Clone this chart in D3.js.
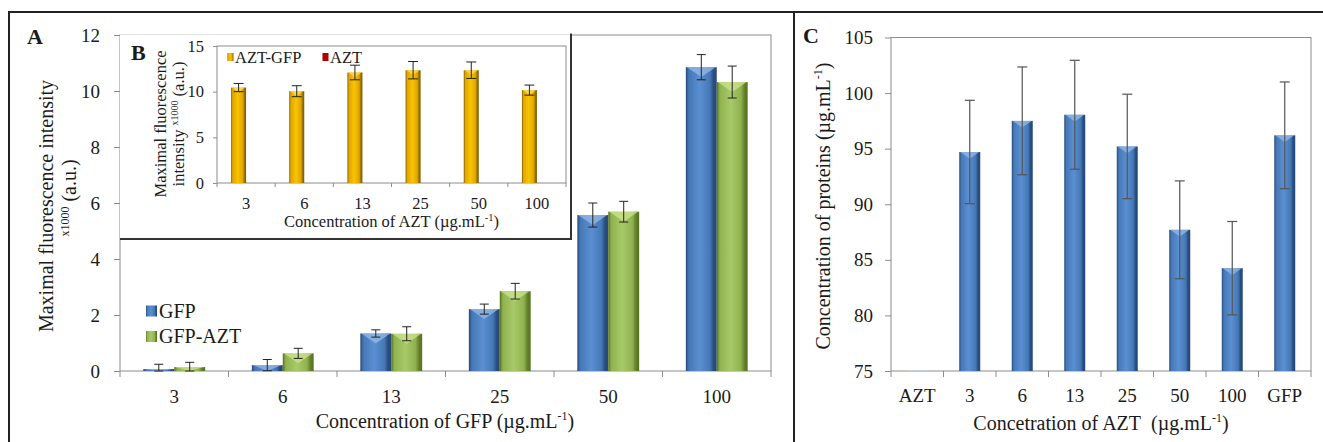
<!DOCTYPE html>
<html lang="en">
<head>
<meta charset="utf-8">
<title>Fluorescence intensity and protein concentration</title>
<script src="https://d3js.org/d3.v7.min.js"></script>
<style>
    body { margin: 0; background: #fff; }
    svg { display: block; }
    svg text { font-family: "Liberation Serif", "Times New Roman", serif; }
</style>
</head>
<body>
<script>
    // panel A : GFP / GFP-AZT
    var gfpCats = ["3", "6", "13", "25", "50", "100"];
    var gfpSeries = ["GFP", "GFP-AZT"];
    var gfpVals = [0.07, 0.21, 1.34, 2.21, 5.57, 10.85];
    var gfpErr = [0.17, 0.2, 0.13, 0.18, 0.43, 0.45];
    var gfpAztVals = [0.14, 0.63, 1.33, 2.85, 5.69, 10.32];
    var gfpAztErr = [0.17, 0.18, 0.25, 0.28, 0.37, 0.57];
    var aTicks = [0, 2, 4, 6, 8, 10, 12];

    // panel B (inset) : AZT-GFP / AZT
    var aztCats = ["3", "6", "13", "25", "50", "100"];
    var aztSeries = ["AZT-GFP", "AZT"];
    var aztGfpVals = [10.45, 10.05, 12.1, 12.35, 12.35, 10.17];
    var aztGfpErr = [0.45, 0.6, 0.8, 0.95, 0.9, 0.55];
    var aztOnlyVals = [0, 0, 0, 0, 0, 0];
    var bTicks = [0, 5, 10, 15];

    // panel C : protein concentration
    var protCats = ["AZT", "3", "6", "13", "25", "50", "100", "GFP"];
    var protVals = [75, 94.7, 97.5, 98.05, 95.2, 87.7, 84.25, 96.2];
    var protErr = [0, 4.65, 4.85, 4.9, 4.7, 4.4, 4.2, 4.8];
    var cTicks = [75, 80, 85, 90, 95, 100, 105];

    var w = 1323, h = 442;
    var ink = "#1a1a1a", axisGrey = "#8c8c8c";
    var serif = "'Liberation Serif', 'Times New Roman', serif";

    var svg = d3.select("body").append("svg")
        .attr("width", w)
        .attr("height", h);
    svg.append("rect").attr("width", w).attr("height", h).attr("fill", "#fff");

    // bevelled bar fills (excel 3d look)
    var defs = svg.append("defs");
    function bevel(id, edge, base, light, dark) {
        var g = defs.append("linearGradient").attr("id", id)
            .attr("x1", 0).attr("x2", 1).attr("y1", 0).attr("y2", 0);
        [[0, edge], [0.1, base], [0.45, light], [0.78, base], [0.9, dark], [1, edge]].forEach(function(s) {
            g.append("stop").attr("offset", s[0]).attr("stop-color", s[1]);
        });
    }
    bevel("blue", "#264a78", "#4678b6", "#5a8fd2", "#284c7d");
    bevel("green", "#56721f", "#90b24f", "#a8c968", "#637f2a");
    bevel("gold", "#7a5a00", "#e0a500", "#f9c400", "#946e00");
    var topLight = { blue: "#95b9e6", green: "#cde38f", gold: "#ffdc5e" };

    function drawBar(g, bx, bw, yTop, yBase, fill) {
        var bh = yBase - yTop;
        if (bh < 1) {
            g.append("rect").attr("x", bx).attr("y", yBase - 1).attr("width", bw).attr("height", 1)
                .attr("fill", "#c3cedd");
            return;
        }
        g.append("rect").attr("x", bx).attr("y", yTop).attr("width", bw).attr("height", bh)
            .attr("fill", "url(#" + fill + ")");
        var tip = Math.min(bw * 0.32, bh);
        g.append("path")
            .attr("d", "M" + (bx + 1) + "," + yTop + "L" + (bx + bw - 1) + "," + yTop +
                "L" + (bx + bw / 2) + "," + (yTop + tip) + "Z")
            .attr("fill", topLight[fill]).attr("opacity", 0.75);
    }

    function drawErr(g, cx, y1, y2, cap, color, sw) {
        g.append("line").attr("x1", cx).attr("x2", cx).attr("y1", y1).attr("y2", y2)
            .attr("stroke", color).attr("stroke-width", sw);
        [y1, y2].forEach(function(yy) {
            g.append("line").attr("x1", cx - cap / 2).attr("x2", cx + cap / 2).attr("y1", yy).attr("y2", yy)
                .attr("stroke", color).attr("stroke-width", sw);
        });
    }

    // frame, y axis, category labels and boundary ticks
    function panelAxes(g, x, y, ticks, o) {
        var x0 = x.range()[0], x1 = x.range()[1], y0 = y.range()[0], y1 = y.range()[1];
        g.append("rect").attr("x", x0).attr("y", y1).attr("width", x1 - x0).attr("height", y0 - y1)
            .attr("fill", "none").attr("stroke", axisGrey);

        var ya = g.append("g").attr("transform", "translate(" + x0 + ",0)")
            .call(d3.axisLeft(y).tickValues(ticks).tickSize(o.tick).tickPadding(o.ypad));
        ya.attr("font-family", serif).attr("font-size", o.fs);
        ya.select(".domain").remove();
        ya.selectAll("line").attr("stroke", axisGrey);
        ya.selectAll("text").attr("fill", ink).attr("font-family", serif);

        var xa = g.append("g").attr("transform", "translate(0," + y0 + ")")
            .call(d3.axisBottom(x).tickSize(0).tickPadding(o.xpad));
        xa.attr("font-family", serif).attr("font-size", o.fs);
        xa.select(".domain").remove();
        xa.selectAll("text").attr("fill", ink).attr("font-family", serif);

        d3.range(x.domain().length + 1).forEach(function(i) {
            var bx = x0 + i * x.step();
            g.append("line").attr("x1", bx).attr("x2", bx).attr("y1", y0).attr("y2", y0 + o.tick)
                .attr("stroke", axisGrey);
        });
    }

    function supText(g, tx, ty, parts, fs, rotate) {
        var t = g.append("text").attr("font-size", fs).attr("fill", ink)
            .attr("font-family", serif).attr("text-anchor", "middle");
        if (rotate) t.attr("transform", "translate(" + tx + "," + ty + ") rotate(-90)");
        else t.attr("x", tx).attr("y", ty);
        parts.forEach(function(p) {
            var s = t.append("tspan").text(p.t);
            if (p.fs) s.attr("font-size", p.fs);
            if (p.dy) s.attr("dy", p.dy);
        });
        return t;
    }

    function plainText(g, tx, ty, str, fs, bold) {
        return g.append("text").attr("x", tx).attr("y", ty).attr("font-size", fs)
            .attr("font-family", serif).attr("font-weight", bold ? "bold" : null)
            .attr("fill", ink).text(str);
    }

    // outer frame
    svg.append("path").attr("d", "M9,442V12H1323M794,12V442")
        .attr("fill", "none").attr("stroke", "#222").attr("stroke-width", 2);

    // ---------------- panel A ----------------
    var gA = svg.append("g");
    var xA = d3.scaleBand().domain(gfpCats).range([120, 771]).paddingInner(0.43).paddingOuter(0.215);
    var yA = d3.scaleLinear().domain([0, 12]).range([371, 35]);
    panelAxes(gA, xA, yA, aTicks, { tick: 6, ypad: 14, xpad: 19, fs: 19 });

    var aFill = ["blue", "green"];
    var aData = [[gfpVals, gfpErr], [gfpAztVals, gfpAztErr]];
    aData.forEach(function(s, k) {
        var bw = xA.bandwidth() / 2;
        gfpCats.forEach(function(c, i) {
            drawBar(gA, xA(c) + k * bw, bw, yA(s[0][i]), yA(0), aFill[k]);
        });
    });
    aData.forEach(function(s, k) {
        var bw = xA.bandwidth() / 2;
        gfpCats.forEach(function(c, i) {
            var cx = xA(c) + k * bw + bw / 2;
            drawErr(gA, cx, yA(s[0][i] + s[1][i]), yA(Math.max(0, s[0][i] - s[1][i])), 9, "#222", 1);
        });
    });

    // legend A
    gfpSeries.forEach(function(name, k) {
        var ly = 311 + k * 25.5;
        gA.append("rect").attr("x", 146).attr("y", ly - 5.5).attr("width", 11).attr("height", 11)
            .attr("fill", "url(#" + aFill[k] + ")");
        plainText(gA, 159, ly + 6.8, name, 20);
    });

    plainText(gA, 27, 44, "A", 22, true);
    supText(gA, 53, 206, [{ t: "Maximal fluorescence intensity" }], 20, true);
    supText(gA, 76, 198, [{ t: "x1000", fs: 12, dy: -7 }, { t: " (a.u.)", dy: 7 }], 20, true);
    supText(gA, 445, 428, [{ t: "Concentration of GFP (\u00b5g.mL" }, { t: "-1", fs: 12, dy: -8 }, { t: ")", dy: 8 }], 20, false);

    // ---------------- panel B (inset) ----------------
    var gB = svg.append("g");
    gB.append("rect").attr("x", 120).attr("y", 34.5).attr("width", 451).attr("height", 204.5).attr("fill", "#fff");
    gB.append("path").attr("d", "M120,239H571V33.5").attr("fill", "none").attr("stroke", "#333").attr("stroke-width", 2);

    var xB = d3.scaleBand().domain(aztCats).range([217, 566]).paddingInner(0.485).paddingOuter(0.2425);
    var yB = d3.scaleLinear().domain([0, 15]).range([183, 46]);
    panelAxes(gB, xB, yB, bTicks, { tick: 4, ypad: 9, xpad: 14, fs: 16.5 });

    aztCats.forEach(function(c, i) {
        var bw = xB.bandwidth() / 2;
        drawBar(gB, xB(c), bw, yB(aztGfpVals[i]), yB(0), "gold");
        if (aztOnlyVals[i] > 0) {
            gB.append("rect").attr("x", xB(c) + bw).attr("y", yB(aztOnlyVals[i])).attr("width", bw)
                .attr("height", yB(0) - yB(aztOnlyVals[i])).attr("fill", "#c00000");
        }
        drawErr(gB, xB(c) + bw / 2, yB(aztGfpVals[i] + aztGfpErr[i]), yB(aztGfpVals[i] - aztGfpErr[i]), 10, "#222", 1);
    });

    // legend B
    var bLegX = [227.5, 322.5];
    var bLegFill = ["url(#gold)", "#b00000"];
    aztSeries.forEach(function(name, k) {
        gB.append("rect").attr("x", bLegX[k]).attr("y", 53).attr("width", 6).attr("height", 8)
            .attr("fill", bLegFill[k]);
        plainText(gB, bLegX[k] + 7.5, 62.5, name, 16.5);
    });

    plainText(gB, 131, 60, "B", 22, true);
    supText(gB, 166, 124, [{ t: "Maximal fluorescence" }], 16.5, true);
    supText(gB, 184, 124, [{ t: "intensity " }, { t: "x1000", fs: 10, dy: -6 }, { t: " (a.u.)", dy: 6 }], 16.5, true);
    supText(gB, 391.5, 227, [{ t: "Concentration of AZT (\u00b5g.mL" }, { t: "-1", fs: 10.5, dy: -6.5 }, { t: ")", dy: 6.5 }], 16.5, false);

    // ---------------- panel C ----------------
    var gC = svg.append("g");
    var xC = d3.scaleBand().domain(protCats).range([891, 1311]).paddingInner(0.6).paddingOuter(0.3);
    var yC = d3.scaleLinear().domain([75, 105]).range([371, 37.5]);
    panelAxes(gC, xC, yC, cTicks, { tick: 6, ypad: 12, xpad: 18, fs: 19 });

    protCats.forEach(function(c, i) {
        drawBar(gC, xC(c), xC.bandwidth(), yC(protVals[i]), yC(75), "blue");
    });
    protCats.forEach(function(c, i) {
        if (protErr[i] > 0) {
            drawErr(gC, xC(c) + xC.bandwidth() / 2, yC(protVals[i] + protErr[i]), yC(protVals[i] - protErr[i]),
                10, "#555", 1.2);
        }
    });

    plainText(gC, 803, 43, "C", 22, true);
    supText(gC, 830, 206, [{ t: "Concentration of proteins (\u00b5g.mL" }, { t: "-1", fs: 12, dy: -8 }, { t: ")", dy: 8 }], 20, true);
    supText(gC, 1101, 430, [{ t: "Concetration of AZT\u00a0 (\u00b5g.mL" }, { t: "-1", fs: 12, dy: -8 }, { t: ")", dy: 8 }], 20, false);
</script>
</body>
</html>
